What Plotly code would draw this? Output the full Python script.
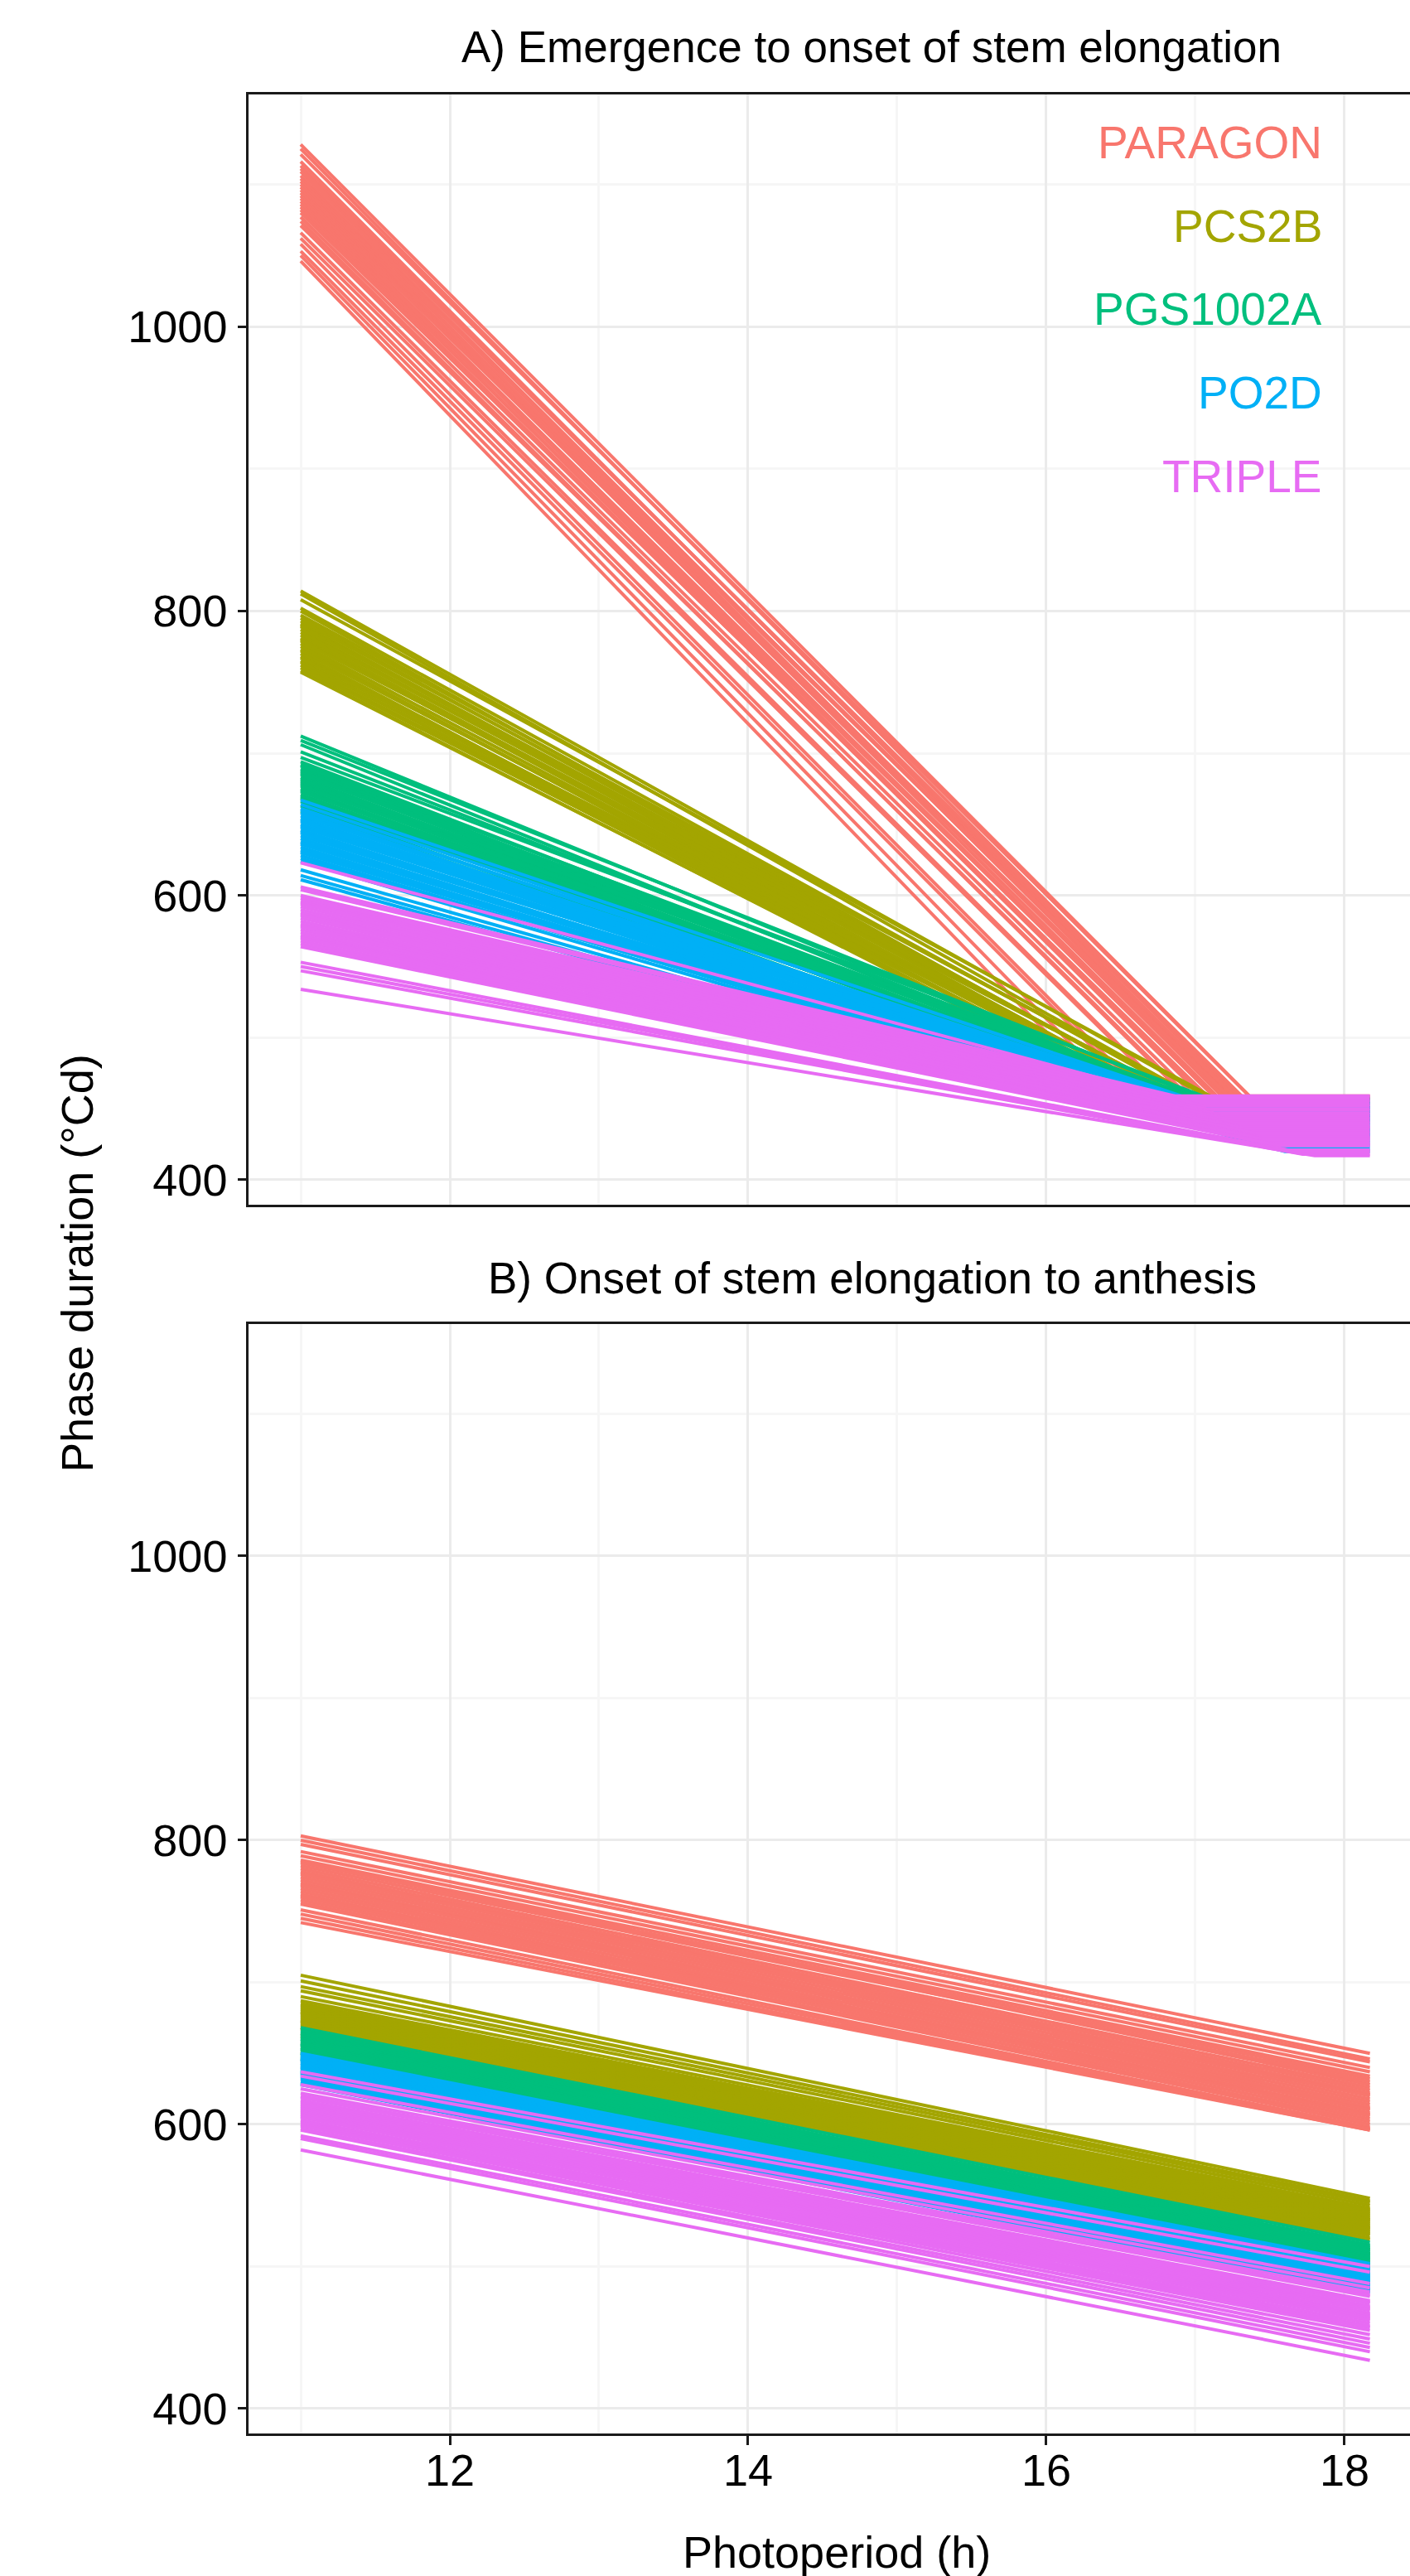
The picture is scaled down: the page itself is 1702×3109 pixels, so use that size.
import plotly.graph_objects as go

W, H = 1702, 3109
FONT = "Liberation Sans, Arial, Helvetica, sans-serif"

# ---------------- data ----------------
genotypes = ["PARAGON", "PCS2B", "PGS1002A", "PO2D", "TRIPLE"]
colors = ["#F8766D", "#A3A500", "#00BF7D", "#00B0F6", "#E76BF3"]

photoperiod_min = 11.0
photoperiod_max = 18.17

x_tick_vals = [12, 14, 16, 18]
x_minor_vals = [11, 13, 15, 17]
y_tick_vals = [400, 600, 800, 1000]
y_minor_vals = [500, 700, 900, 1100]

panel_titles = ["A) Emergence to onset of stem elongation",
                "B) Onset of stem elongation to anthesis"]

# Panel A: duration at 11 h, photoperiod where the plateau starts, plateau duration
paragon_a_start = [1128, 1125, 1121, 1116, 1113, 1111, 1109, 1106, 1104, 1102, 1100, 1098, 1096, 1094, 1092,
                   1090, 1088, 1086, 1084, 1082, 1080, 1077, 1074, 1071, 1066, 1062, 1058, 1053, 1050, 1046]
paragon_a_break = [17.40, 17.38, 17.37, 17.36, 17.35, 17.34, 17.32, 17.31, 17.30, 17.28, 17.27, 17.25, 17.24, 17.22, 17.21,
                   17.19, 17.18, 17.16, 17.14, 17.12, 17.10, 17.07, 17.04, 17.00, 16.92, 16.85, 16.78, 16.70, 16.60, 16.45]
paragon_a_base = [455, 450, 458, 447, 452, 456, 449, 453, 446, 457, 451, 448, 454, 459, 450,
                  452, 446, 455, 449, 453, 457, 451, 448, 454, 450, 456, 447, 452, 449, 455]

pcs2b_a_start = [814, 812, 808, 802, 800, 797, 795, 793, 791, 790, 789, 787, 785, 783, 781,
                 780, 779, 777, 775, 773, 772, 770, 768, 767, 765, 764, 762, 760, 758, 757]
pcs2b_a_break = [17.19, 17.17, 17.15, 17.11, 17.09, 17.06, 17.05, 17.03, 17.02, 17.01, 17.00, 16.99, 16.97, 16.96, 16.94,
                 16.93, 16.93, 16.91, 16.90, 16.88, 16.88, 16.86, 16.85, 16.84, 16.83, 16.82, 16.81, 16.79, 16.78, 16.77]
pcs2b_a_base = [452, 448, 456, 450, 445, 454, 449, 457, 451, 446, 453, 448, 455, 450, 447,
                452, 458, 449, 444, 451, 455, 447, 453, 450, 446, 452, 448, 454, 449, 451]

pgs1002a_a_start = [712, 709, 706, 701, 697, 694, 692, 691, 689, 688, 687, 686, 685, 683, 682,
                    681, 680, 679, 678, 677, 675, 674, 673, 671, 670, 669, 668, 666, 663, 659]
pgs1002a_a_break = [17.14, 17.13, 17.12, 17.11, 17.10, 17.09, 17.09, 17.08, 17.08, 17.07, 17.07, 17.06, 17.06, 17.05, 17.05,
                    17.04, 17.04, 17.03, 17.03, 17.02, 17.01, 17.01, 17.00, 16.99, 16.99, 16.98, 16.98, 16.97, 16.96, 16.94]
pgs1002a_a_base = [449, 454, 446, 451, 457, 448, 452, 445, 450, 455, 447, 453, 449, 444, 451,
                   456, 448, 450, 446, 453, 449, 442, 451, 447, 454, 448, 445, 450, 443, 447]

po2d_a_start = [667, 664, 661, 660, 658, 656, 654, 653, 652, 650, 649, 648, 646, 645, 644,
                642, 640, 638, 637, 636, 634, 632, 631, 630, 628, 626, 624, 618, 614, 611]
po2d_a_break = [17.02, 17.03, 17.05, 17.04, 17.06, 17.08, 17.10, 17.09, 17.12, 17.14, 17.13, 17.16, 17.18, 17.17, 17.20,
                17.22, 17.25, 17.27, 17.26, 17.30, 17.32, 17.35, 17.34, 17.38, 17.40, 17.43, 17.46, 17.52, 17.56, 17.60]
po2d_a_base = [455, 451, 449, 453, 447, 450, 446, 452, 444, 448, 442, 446, 440, 444, 438,
               442, 436, 440, 434, 437, 432, 435, 430, 433, 428, 431, 426, 424, 422, 420]

triple_a_start = [623, 606, 604, 600, 598, 596, 595, 594, 592, 590, 588, 587, 586, 584, 582,
                  580, 579, 578, 576, 574, 572, 571, 570, 568, 566, 564, 553, 550, 547, 534]
triple_a_break = [16.80, 16.90, 16.95, 17.00, 17.02, 17.05, 17.07, 17.10, 17.12, 17.15, 17.18, 17.20, 17.22, 17.25, 17.28,
                  17.30, 17.32, 17.35, 17.38, 17.40, 17.43, 17.45, 17.48, 17.50, 17.53, 17.56, 17.62, 17.66, 17.72, 17.80]
triple_a_base = [459, 458, 456, 455, 453, 452, 450, 449, 447, 446, 444, 443, 441, 440, 438,
                 437, 436, 434, 433, 431, 430, 429, 428, 426, 425, 424, 421, 420, 418, 417]

# Panel B: duration at 11 h and at the longest photoperiod
paragon_b_start = [803, 800, 797, 792, 789, 786, 785, 784, 782, 780, 778, 777, 776, 774, 772,
                   770, 769, 768, 766, 764, 762, 761, 760, 758, 756, 755, 751, 748, 745, 742]
paragon_b_end = [650, 646, 644, 640, 637, 634, 628, 632, 630, 626, 624, 621, 622, 620, 618,
                 616, 611, 614, 612, 610, 608, 607, 606, 604, 602, 600, 598, 597, 596, 596]

pcs2b_b_start = [705, 701, 697, 694, 690, 687, 685, 684, 683, 682, 681, 680, 679, 679, 678,
                 677, 676, 675, 674, 673, 673, 672, 671, 670, 669, 668, 668, 667, 664, 662]
pcs2b_b_end = [548, 546, 545, 543, 541, 540, 539, 538, 537, 536, 535, 534, 533, 533, 532,
               531, 530, 529, 528, 527, 527, 526, 525, 524, 523, 522, 520, 519, 512, 509]

pgs1002a_b_start = [668, 666, 665, 664, 663, 662, 661, 660, 660, 659, 658, 657, 657, 656, 656,
                    655, 654, 654, 653, 653, 652, 651, 651, 650, 650, 649, 648, 647, 646, 646]
pgs1002a_b_end = [517, 515, 514, 513, 512, 511, 510, 509, 508, 508, 507, 506, 506, 505, 505,
                  504, 503, 503, 502, 502, 501, 500, 500, 499, 499, 498, 497, 497, 496, 495]

po2d_b_start = [650, 648, 647, 646, 646, 645, 645, 644, 643, 643, 642, 641, 641, 640, 640,
                639, 638, 638, 637, 637, 636, 636, 635, 634, 633, 632, 630, 629, 629, 628]
po2d_b_end = [502, 500, 499, 498, 498, 497, 496, 496, 495, 495, 494, 493, 493, 492, 492,
              491, 490, 490, 489, 489, 488, 488, 487, 486, 485, 484, 484, 483, 482, 482]

triple_b_start = [637, 634, 628, 625, 622, 620, 619, 617, 616, 615, 614, 613, 612, 611, 610,
                  609, 608, 607, 606, 605, 603, 602, 601, 600, 599, 597, 596, 592, 590, 582]
triple_b_end = [500, 496, 488, 485, 482, 480, 479, 476, 475, 474, 472, 471, 470, 469, 467,
                466, 465, 464, 463, 462, 460, 458, 457, 455, 452, 449, 446, 443, 440, 434]

panel_a = [
    (paragon_a_start, paragon_a_break, paragon_a_base),
    (pcs2b_a_start, pcs2b_a_break, pcs2b_a_base),
    (pgs1002a_a_start, pgs1002a_a_break, pgs1002a_a_base),
    (po2d_a_start, po2d_a_break, po2d_a_base),
    (triple_a_start, triple_a_break, triple_a_base),
]
panel_b = [
    (paragon_b_start, paragon_b_end),
    (pcs2b_b_start, pcs2b_b_end),
    (pgs1002a_b_start, pgs1002a_b_end),
    (po2d_b_start, po2d_b_end),
    (triple_b_start, triple_b_end),
]

# ---------------- layout geometry (pixels) ----------------
PLOT_L = 300
A_TOP, A_BOT = 114, 1454
B_TOP, B_BOT = 1598, 2937
X_RANGE = [10.65, 18.439]
Y_RANGE = [382.5, 1163.2]
LINE_W = 4.0


def px_x(p):
    return p / W


def px_y(p):
    return 1 - p / H


fig = go.Figure()

for g, col, (starts, breaks, bases) in zip(genotypes, colors, panel_a):
    xs, ys = [], []
    for s, b, base in zip(starts, breaks, bases):
        xs += [photoperiod_min, b, photoperiod_max, None]
        ys += [s, base, base, None]
    fig.add_trace(go.Scatter(x=xs, y=ys, mode="lines", name=g, showlegend=False,
                             line=dict(color=col, width=LINE_W), hoverinfo="skip",
                             xaxis="x", yaxis="y"))

for g, col, (starts, ends) in zip(genotypes, colors, panel_b):
    xs, ys = [], []
    for s, e in zip(starts, ends):
        xs += [photoperiod_min, photoperiod_max, None]
        ys += [s, e, None]
    fig.add_trace(go.Scatter(x=xs, y=ys, mode="lines", name=g, showlegend=False,
                             line=dict(color=col, width=LINE_W), hoverinfo="skip",
                             xaxis="x2", yaxis="y2"))

AX_COL = "#1a1a1a"
grid_major = dict(showgrid=True, gridcolor="#EBEBEB", gridwidth=3, zeroline=False)
minor_x = dict(tickvals=x_minor_vals, showgrid=True, gridcolor="#F6F6F6", gridwidth=2.5, ticks="")
minor_y = dict(tickvals=y_minor_vals, showgrid=True, gridcolor="#F6F6F6", gridwidth=2.5, ticks="")

common_x = dict(range=X_RANGE, tickvals=x_tick_vals, ticktext=[str(v) for v in x_tick_vals],
                showline=True, linecolor=AX_COL, linewidth=2.5, mirror=True,
                minor=minor_x, **grid_major)
common_y = dict(range=Y_RANGE, tickvals=y_tick_vals, ticktext=[str(v) for v in y_tick_vals],
                showline=True, linecolor=AX_COL, linewidth=2.5, mirror=False,
                ticks="outside", ticklen=10, tickwidth=2.5, tickcolor=AX_COL,
                tickfont=dict(family=FONT, size=54, color="black"), ticklabelstandoff=2,
                minor=minor_y, **grid_major)

fig.update_layout(
    width=W, height=H,
    margin=dict(l=0, r=0, t=0, b=0),
    paper_bgcolor="white", plot_bgcolor="white",
    showlegend=False,
    xaxis=dict(domain=[px_x(PLOT_L), 1], anchor="y", showticklabels=False, ticks="", **common_x),
    yaxis=dict(domain=[px_y(A_BOT), px_y(A_TOP)], anchor="x", **common_y),
    xaxis2=dict(domain=[px_x(PLOT_L), 1], anchor="y2", ticks="outside", ticklen=11, tickwidth=2.5,
                tickcolor=AX_COL, tickfont=dict(family=FONT, size=54, color="black"),
                ticklabelstandoff=-16, **common_x),
    yaxis2=dict(domain=[px_y(B_BOT), px_y(B_TOP)], anchor="x2", **common_y),
)

annotations = []
# panel titles
annotations.append(dict(text=panel_titles[0], x=px_x(1052), y=px_y(57), xref="paper", yref="paper",
                        xanchor="center", yanchor="middle", showarrow=False,
                        font=dict(family=FONT, size=53, color="black")))
annotations.append(dict(text=panel_titles[1], x=px_x(1053), y=px_y(1542), xref="paper", yref="paper",
                        xanchor="center", yanchor="middle", showarrow=False,
                        font=dict(family=FONT, size=53, color="black")))
# genotype labels
label_y = [172, 272.5, 373, 474, 574.5]
for g, col, ly in zip(genotypes, colors, label_y):
    annotations.append(dict(text=g, x=px_x(1598), y=px_y(ly), xref="paper", yref="paper",
                            xanchor="right", yanchor="middle", showarrow=False,
                            font=dict(family=FONT, size=55, color=col)))
# axis titles
annotations.append(dict(text="Photoperiod (h)", x=px_x(1010), y=px_y(3080), xref="paper", yref="paper",
                        xanchor="center", yanchor="middle", showarrow=False,
                        font=dict(family=FONT, size=54, color="black")))
annotations.append(dict(text="Phase duration (°Cd)", x=px_x(93), y=px_y(1525), xref="paper", yref="paper",
                        xanchor="center", yanchor="middle", showarrow=False, textangle=-90,
                        font=dict(family=FONT, size=54, color="black")))
fig.update_layout(annotations=annotations)

fig.write_html("out.html", config={"displayModeBar": False},
               post_script="document.body.style.margin='0';document.body.style.overflow='hidden';")
